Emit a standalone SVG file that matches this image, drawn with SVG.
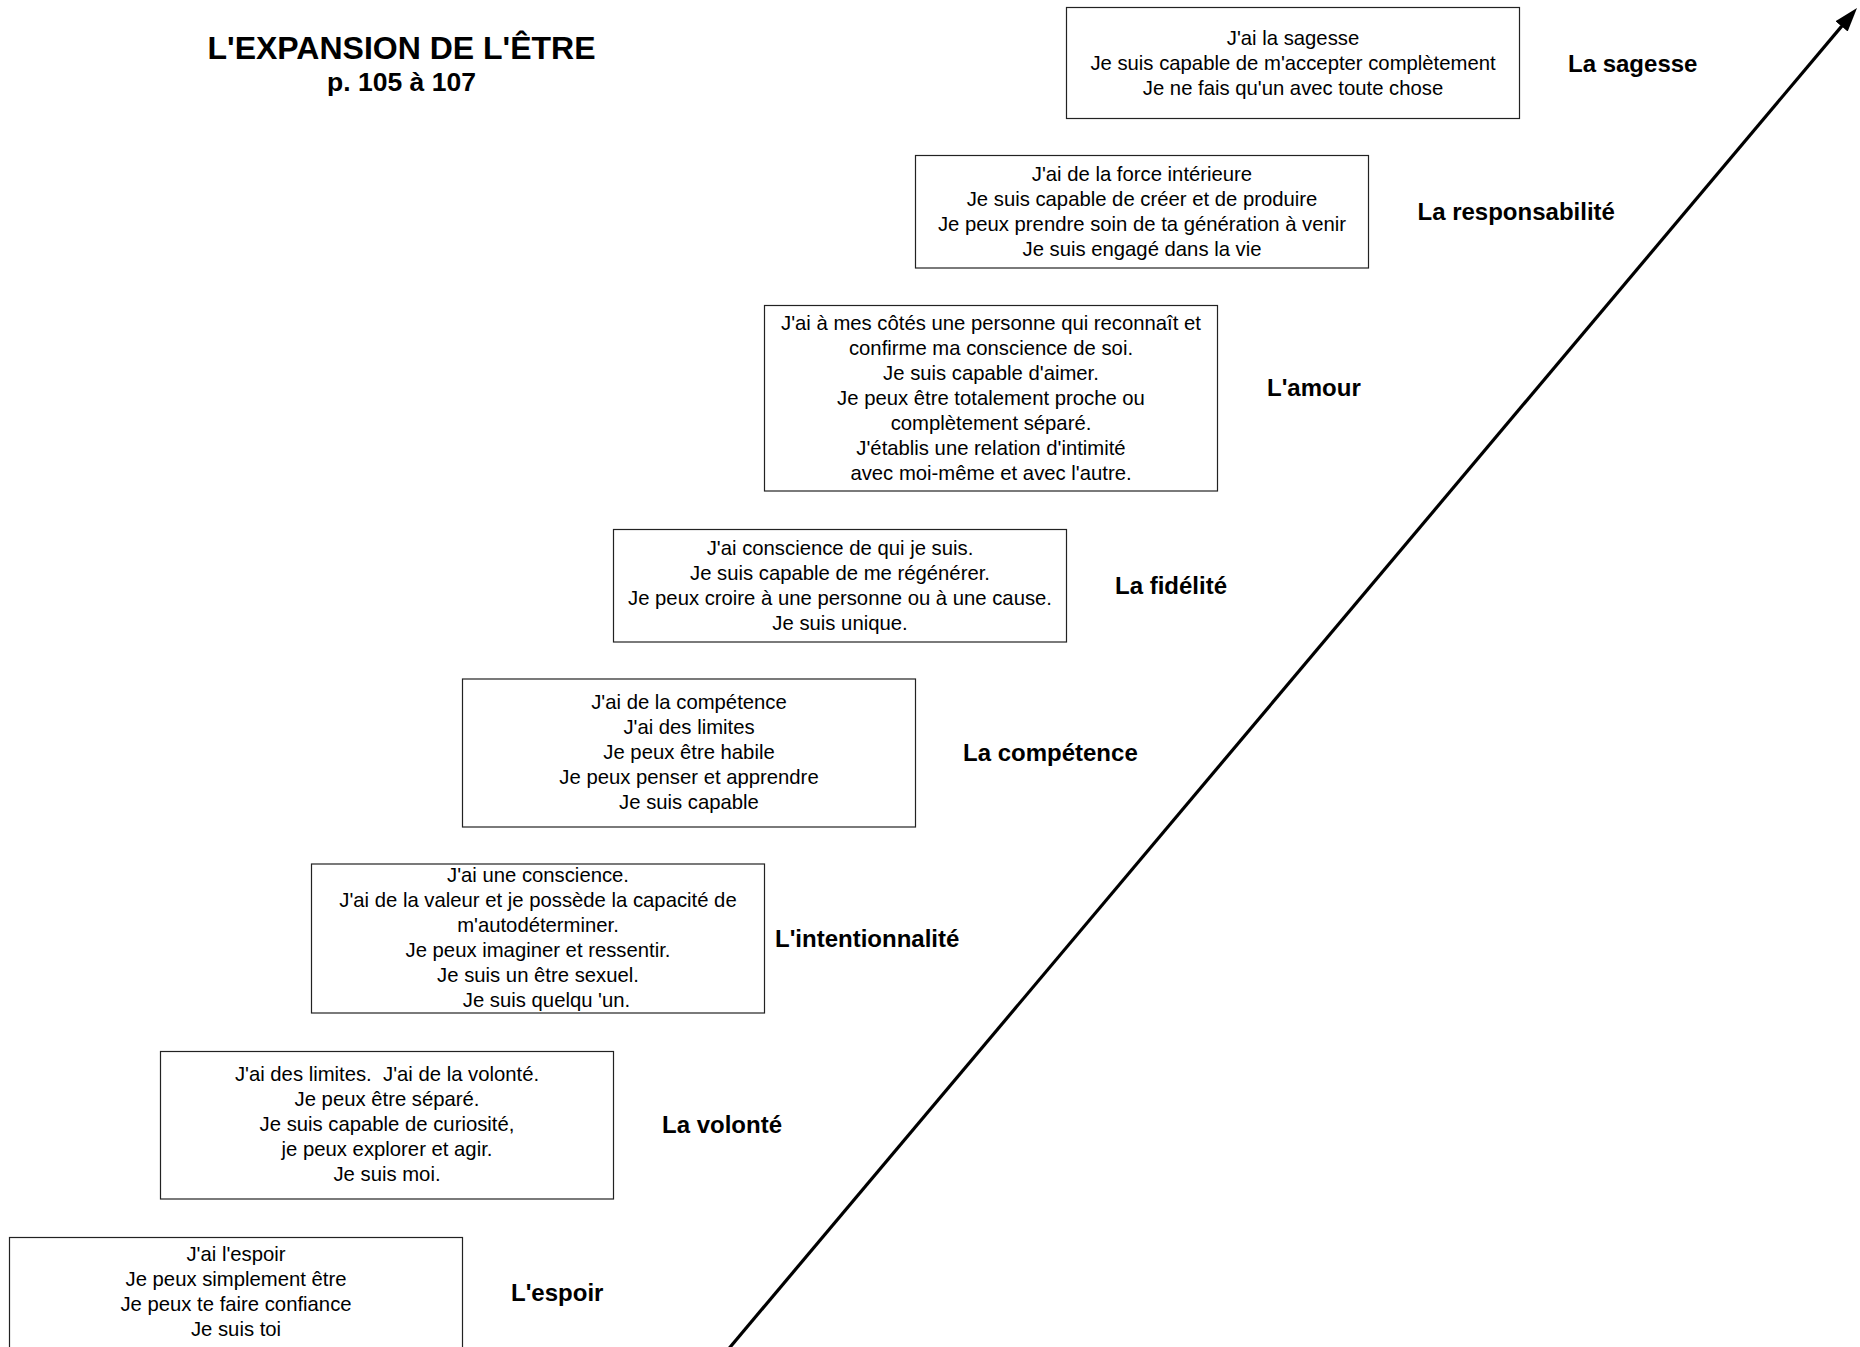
<svg xmlns="http://www.w3.org/2000/svg" width="1860" height="1347" viewBox="0 0 1860 1347">
  <style>
    .box { fill: #ffffff; stroke: #222; stroke-width: 1.2; }
    .body { font-family: "Liberation Sans", Arial, sans-serif; font-size: 20.3px; fill: #000; text-anchor: middle; }
    .label { font-family: "Liberation Sans", Arial, sans-serif; font-size: 24px; font-weight: bold; fill: #000; }
    .title { font-family: "Liberation Sans", Arial, sans-serif; font-weight: bold; fill: #000; text-anchor: middle; }
  </style>
  <defs>
    <marker id="head" markerUnits="userSpaceOnUse" markerWidth="26" markerHeight="18" refX="1" refY="9" orient="auto">
      <path d="M0,1 L24,9 L0,17 z" fill="#000"/>
    </marker>
  </defs>
  <rect width="1860" height="1347" fill="#fff"/>

  <g id="title">
    <text class="title" x="401.5" y="59" font-size="32">L'EXPANSION DE L'ÊTRE</text>
    <text class="title" x="401.5" y="91" font-size="26.5">p. 105 à 107</text>
  </g>

  <!-- rising axis -->
  <g id="connectors">
    <line x1="726" y1="1352" x2="1842.2" y2="25.6" stroke="#000" stroke-width="3.2" marker-end="url(#head)"/>
  </g>

  <!-- stage 1 -->
  <g id="espoir">
    <rect class="box" x="9.5" y="1237.5" width="453" height="113"/>
    <text class="body" x="236" y="1261">J'ai l'espoir</text>
    <text class="body" x="236" y="1286.1">Je peux simplement être</text>
    <text class="body" x="236" y="1311.2">Je peux te faire confiance</text>
    <text class="body" x="236" y="1336.3">Je suis toi</text>
    <text class="label" x="511" y="1300.5">L'espoir</text>
  </g>

  <!-- stage 2 -->
  <g id="volonte">
    <rect class="box" x="160.5" y="1051.5" width="453" height="147.5"/>
    <text class="body" x="387" y="1081" xml:space="preserve">J'ai des limites.  J'ai de la volonté.</text>
    <text class="body" x="387" y="1106.1">Je peux être séparé.</text>
    <text class="body" x="387" y="1131.2">Je suis capable de curiosité,</text>
    <text class="body" x="387" y="1156.3">je peux explorer et agir.</text>
    <text class="body" x="387" y="1181.4">Je suis moi.</text>
    <text class="label" x="662" y="1133">La volonté</text>
  </g>

  <!-- stage 3 -->
  <g id="intentionnalite">
    <rect class="box" x="311.5" y="864" width="453" height="149"/>
    <text class="body" x="538" y="881.5">J'ai une conscience.</text>
    <text class="body" x="538" y="906.6">J'ai de la valeur et je possède la capacité de</text>
    <text class="body" x="538" y="931.7">m'autodéterminer.</text>
    <text class="body" x="538" y="956.8">Je peux imaginer et ressentir.</text>
    <text class="body" x="538" y="981.9">Je suis un être sexuel.</text>
    <text class="body" x="546.5" y="1007">Je suis quelqu 'un.</text>
    <text class="label" x="775" y="946.5">L'intentionnalité</text>
  </g>

  <!-- stage 4 -->
  <g id="competence">
    <rect class="box" x="462.5" y="679" width="453" height="148"/>
    <text class="body" x="689" y="708.5">J'ai de la compétence</text>
    <text class="body" x="689" y="733.6">J'ai des limites</text>
    <text class="body" x="689" y="758.7">Je peux être habile</text>
    <text class="body" x="689" y="783.8">Je peux penser et apprendre</text>
    <text class="body" x="689" y="808.9">Je suis capable</text>
    <text class="label" x="963" y="760.5">La compétence</text>
  </g>

  <!-- stage 5 -->
  <g id="fidelite">
    <rect class="box" x="613.5" y="529.5" width="453" height="112.5"/>
    <text class="body" x="840" y="554.5">J'ai conscience de qui je suis.</text>
    <text class="body" x="840" y="579.6">Je suis capable de me régénérer.</text>
    <text class="body" x="840" y="604.7">Je peux croire à une personne ou à une cause.</text>
    <text class="body" x="840" y="629.8">Je suis unique.</text>
    <text class="label" x="1115" y="593.5">La fidélité</text>
  </g>

  <!-- stage 6 -->
  <g id="amour">
    <rect class="box" x="764.5" y="305.5" width="453" height="185.5"/>
    <text class="body" x="991" y="329.5">J'ai à mes côtés une personne qui reconnaît et</text>
    <text class="body" x="991" y="354.6">confirme ma conscience de soi.</text>
    <text class="body" x="991" y="379.7">Je suis capable d'aimer.</text>
    <text class="body" x="991" y="404.8">Je peux être totalement proche ou</text>
    <text class="body" x="991" y="429.9">complètement séparé.</text>
    <text class="body" x="991" y="455">J'établis une relation d'intimité</text>
    <text class="body" x="991" y="480.1">avec moi-même et avec l'autre.</text>
    <text class="label" x="1267" y="395.5">L'amour</text>
  </g>

  <!-- stage 7 -->
  <g id="responsabilite">
    <rect class="box" x="915.5" y="155.5" width="453" height="112.5"/>
    <text class="body" x="1142" y="181">J'ai de la force intérieure</text>
    <text class="body" x="1142" y="206.1">Je suis capable de créer et de produire</text>
    <text class="body" x="1142" y="231.2">Je peux prendre soin de ta génération à venir</text>
    <text class="body" x="1142" y="256.3">Je suis engagé dans la vie</text>
    <text class="label" x="1417.5" y="220">La responsabilité</text>
  </g>

  <!-- stage 8 -->
  <g id="sagesse">
    <rect class="box" x="1066.5" y="7.5" width="453" height="111"/>
    <text class="body" x="1293" y="45">J'ai la sagesse</text>
    <text class="body" x="1293" y="70.1">Je suis capable de m'accepter complètement</text>
    <text class="body" x="1293" y="95.2">Je ne fais qu'un avec toute chose</text>
    <text class="label" x="1568" y="72">La sagesse</text>
  </g>
</svg>
